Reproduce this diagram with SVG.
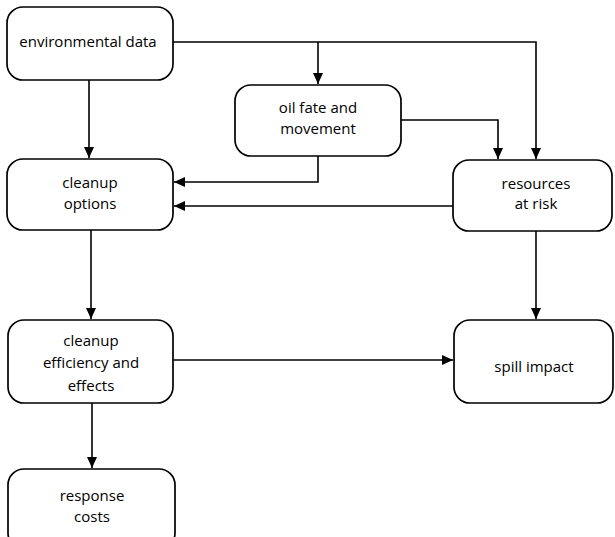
<svg xmlns="http://www.w3.org/2000/svg" width="615" height="537" viewBox="0 0 615 537">
<style>
.box{fill:#fff;stroke:#000;stroke-width:1.7}
.t{font-family:"Open Sans","Noto Sans",sans-serif;font-size:15px;fill:#000;text-anchor:middle}
.c{fill:none;stroke:#000;stroke-width:1.6}
</style>
<defs>
<marker id="a" markerWidth="12" markerHeight="12" refX="11" refY="5.5" orient="auto" markerUnits="userSpaceOnUse">
<path d="M0,0.5 L11,5.5 L0,10.5 Z" fill="#000"/>
</marker>
</defs>
<rect width="615" height="537" fill="#fff"/>
<g id="connectors">
<path class="c" d="M173,42 H536 V159" marker-end="url(#a)"/>
<path class="c" d="M318,42 V84" marker-end="url(#a)"/>
<path class="c" d="M401,120 H498 V159" marker-end="url(#a)"/>
<path class="c" d="M318,156 V182 H174" marker-end="url(#a)"/>
<path class="c" d="M453,206 H174" marker-end="url(#a)"/>
<path class="c" d="M89,80 V158" marker-end="url(#a)"/>
<path class="c" d="M91,230 V319" marker-end="url(#a)"/>
<path class="c" d="M173,360 H453" marker-end="url(#a)"/>
<path class="c" d="M536,231 V319" marker-end="url(#a)"/>
<path class="c" d="M92,403 V468" marker-end="url(#a)"/>
</g>
<g id="environmental-data">
<rect class="box" x="7" y="7" width="166" height="73" rx="16"/>
<text class="t" x="88" y="47">environmental data</text>
</g>
<g id="oil-fate">
<rect class="box" x="235" y="85" width="166" height="71" rx="16"/>
<text class="t" x="318" y="113">oil fate and</text>
<text class="t" x="318" y="134">movement</text>
</g>
<g id="cleanup-options">
<rect class="box" x="7" y="159" width="166" height="71" rx="16"/>
<text class="t" x="90" y="188">cleanup</text>
<text class="t" x="90" y="209">options</text>
</g>
<g id="resources-at-risk">
<rect class="box" x="453" y="160" width="159" height="71" rx="16"/>
<text class="t" x="536" y="189">resources</text>
<text class="t" x="536" y="209">at risk</text>
</g>
<g id="cleanup-efficiency">
<rect class="box" x="8" y="320" width="165" height="83" rx="16"/>
<text class="t" x="91" y="346">cleanup</text>
<text class="t" x="91" y="368">efficiency and</text>
<text class="t" x="91" y="391">effects</text>
</g>
<g id="spill-impact">
<rect class="box" x="454" y="320" width="159" height="83" rx="16"/>
<text class="t" x="534" y="372">spill impact</text>
</g>
<g id="response-costs">
<rect class="box" x="8" y="469" width="167" height="80" rx="16"/>
<text class="t" x="92" y="501">response</text>
<text class="t" x="92" y="522">costs</text>
</g>
</svg>
